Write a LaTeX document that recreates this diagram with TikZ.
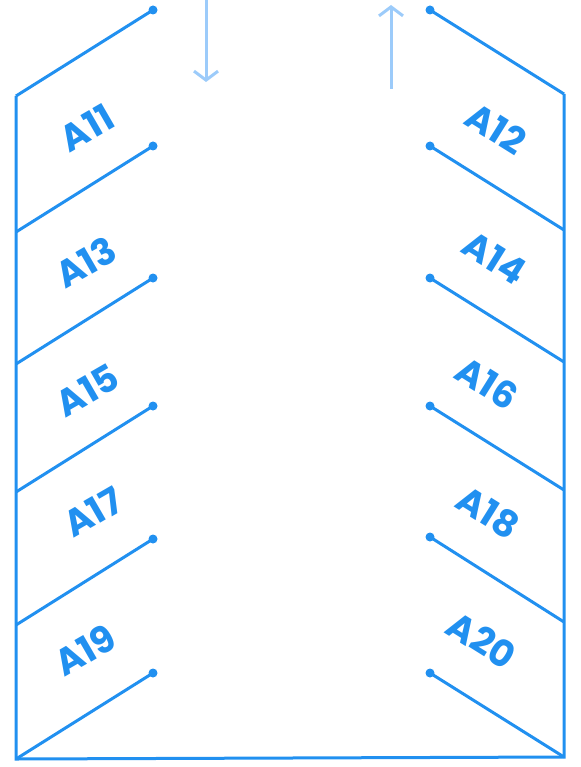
\documentclass[tikz,border=0pt]{standalone}
\usepackage{fontspec}
\setmainfont{Poppins}
\usetikzlibrary{arrows.meta}
\definecolor{mainblue}{HTML}{2190F0}
\definecolor{lightblue}{HTML}{9CCBFA}
\begin{document}
\begin{tikzpicture}[x=1pt,y=-1pt,
  wall/.style={draw=mainblue,line width=3pt,line join=miter},
  rib/.style={draw=mainblue,line width=3pt},
  dotnode/.style={circle,fill=mainblue,inner sep=0pt,minimum size=9pt},
  flow/.style={draw=lightblue,line width=3pt,-{Straight Barb[length=9pt,width=24pt,line width=3pt]}},
  lab/.style={text=mainblue,font=\bfseries\fontsize{37}{37}\selectfont,inner sep=0pt}]
\useasboundingbox (0,0) rectangle (580,767);
% outer wall
\coordinate (wl0) at (16,96);
\coordinate (wr0) at (564,94);
\coordinate (bl) at (16,759);
\coordinate (br) at (564,757);
\draw[wall] (wl0) -- (bl) -- (br) -- (wr0);
% left ribs
\foreach \i/\yd/\yw in {0/10/96,1/146/232,2/278/364,3/406/492,4/539/625,5/673/759}{
  \node[dotnode] (dl\i) at (153,\yd) {};
  \coordinate (wl\i) at (16,\yw);
  \draw[rib] (dl\i.center) -- (wl\i);
}
% right ribs
\foreach \i/\yd/\yw in {0/10/94,1/146/230,2/278/362,3/406/490,4/537/622,5/673/757}{
  \node[dotnode] (dr\i) at (430,\yd) {};
  \coordinate (wr\i) at (564,\yw);
  \draw[rib] (dr\i.center) -- (wr\i);
}
% flow arrows
\coordinate (fa1) at (206,0);
\coordinate (fa2) at (206,82);
\coordinate (fb1) at (391,89);
\coordinate (fb2) at (391,5);
\draw[flow] (fa1) -- (fa2);
\draw[flow] (fb1) -- (fb2);
% labels
\node[lab,rotate=30] (a11) at (87,128) {A11};
\node[lab,rotate=30] (a13) at (86,262) {A13};
\node[lab,rotate=30] (a15) at (87,390) {A15};
\node[lab,rotate=30] (a17) at (93,512) {A17};
\node[lab,rotate=30] (a19) at (85,650) {A19};
\node[lab,rotate=-32] (a12) at (496,128) {A12};
\node[lab,rotate=-32] (a14) at (495,258) {A14};
\node[lab,rotate=-32] (a16) at (487,383) {A16};
\node[lab,rotate=-32] (a18) at (488,512) {A18};
\node[lab,rotate=-32] (a20) at (482,640) {A20};
\end{tikzpicture}
\end{document}
